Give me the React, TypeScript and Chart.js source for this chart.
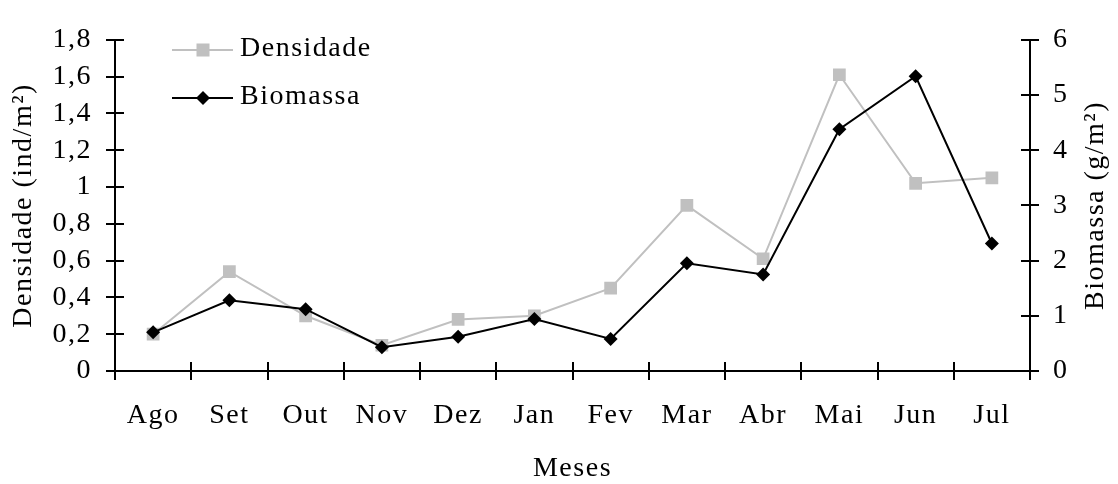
import React, { useEffect, useRef } from 'react';
import { Chart, registerables } from 'chart.js';

Chart.register(...registerables);

// ---- data ----
const months = ['Ago', 'Set', 'Out', 'Nov', 'Dez', 'Jan', 'Fev', 'Mar', 'Abr', 'Mai', 'Jun', 'Jul'];
const densidade = [0.2, 0.54, 0.3, 0.14, 0.28, 0.3, 0.45, 0.9, 0.61, 1.61, 1.02, 1.05];
const biomassa = [0.7, 1.28, 1.12, 0.43, 0.62, 0.94, 0.58, 1.95, 1.75, 4.38, 5.34, 2.31];
const leftAxis = { min: 0, max: 1.8, step: 0.2 };
const rightAxis = { min: 0, max: 6, step: 1 };
const seriesNames = ['Densidade', 'Biomassa'];
const axisTitles = { x: 'Meses', left: 'Densidade (ind/m²)', right: 'Biomassa (g/m²)' };

const FONT = "'Liberation Serif', 'Times New Roman', Times, serif";
const FS = 28;
const LS = '1.5px';
const GRAY = '#c0c0c0';
const BLACK = '#000000';

const fmt = (v: number) => String(Math.round(v * 10) / 10).replace('.', ',');

const spacingPlugin = {
  id: 'letterSpacing',
  beforeUpdate(chart: any) { chart.ctx.letterSpacing = LS; },
  beforeLayout(chart: any) { chart.ctx.letterSpacing = LS; },
  beforeDraw(chart: any) { chart.ctx.letterSpacing = LS; },
};

const decorPlugin = {
  id: 'decor',
  afterDraw(chart: any) {
    const { ctx, chartArea: a, scales } = chart;
    ctx.save();
    ctx.strokeStyle = BLACK;
    ctx.lineWidth = 2;
    ctx.beginPath();
    const xs = scales.x;
    for (let i = 0; i <= months.length; i++) {
      const px = Math.round(xs.getPixelForValue(i - 0.5));
      ctx.moveTo(px, a.bottom - 9);
      ctx.lineTo(px, a.bottom + 9);
    }
    scales.y.ticks.forEach((t: any) => {
      const py = Math.round(scales.y.getPixelForValue(t.value));
      ctx.moveTo(a.left - 9, py);
      ctx.lineTo(a.left + 9, py);
    });
    scales.y1.ticks.forEach((t: any) => {
      const py = Math.round(scales.y1.getPixelForValue(t.value));
      ctx.moveTo(a.right - 9, py);
      ctx.lineTo(a.right + 9, py);
    });
    ctx.stroke();

    // right axis title (reads bottom to top)
    ctx.letterSpacing = LS;
    ctx.font = `${FS}px ${FONT}`;
    ctx.fillStyle = BLACK;
    ctx.save();
    ctx.translate(1096, (a.top + a.bottom) / 2);
    ctx.rotate(-Math.PI / 2);
    ctx.textAlign = 'center';
    ctx.textBaseline = 'middle';
    ctx.fillText(axisTitles.right, 0, 0);
    ctx.restore();

    // legend
    const rows = [50, 98];
    chart.data.datasets.forEach((d: any, i: number) => {
      const y = rows[i];
      ctx.strokeStyle = d.borderColor;
      ctx.lineWidth = d.borderWidth;
      ctx.beginPath();
      ctx.moveTo(172, y);
      ctx.lineTo(233, y);
      ctx.stroke();
      ctx.fillStyle = d.pointBackgroundColor;
      const cx = 203;
      if (d.pointStyle === 'rect') {
        const s = 6.5;
        ctx.fillRect(cx - s, y - s, 2 * s, 2 * s);
      } else {
        const r = 7;
        ctx.beginPath();
        ctx.moveTo(cx, y - r);
        ctx.lineTo(cx + r, y);
        ctx.lineTo(cx, y + r);
        ctx.lineTo(cx - r, y);
        ctx.closePath();
        ctx.fill();
      }
      ctx.fillStyle = BLACK;
      ctx.textAlign = 'left';
      ctx.textBaseline = 'middle';
      ctx.fillText(d.label, 240, y - 1);
    });
    ctx.restore();
  },
};

export default function App() {
  const ref = useRef<HTMLCanvasElement | null>(null);

  useEffect(() => {
    document.body.style.margin = '0';
    const canvas = ref.current;
    if (!canvas) return;
    const font = { family: FONT, size: FS };
    const chart = new Chart(canvas, {
      type: 'line',
      data: {
        labels: months,
        datasets: [
          {
            label: seriesNames[0],
            data: densidade,
            yAxisID: 'y',
            borderColor: GRAY,
            backgroundColor: GRAY,
            borderWidth: 2,
            pointStyle: 'rect',
            pointRadius: 9,
            pointBackgroundColor: GRAY,
            pointBorderColor: GRAY,
            pointBorderWidth: 0,
            tension: 0,
            order: 2,
          },
          {
            label: seriesNames[1],
            data: biomassa,
            yAxisID: 'y1',
            borderColor: BLACK,
            backgroundColor: BLACK,
            borderWidth: 2,
            pointStyle: 'rectRot',
            pointRadius: 7,
            pointBackgroundColor: BLACK,
            pointBorderColor: BLACK,
            pointBorderWidth: 0,
            tension: 0,
            order: 1,
          },
        ],
      },
      options: {
        responsive: false,
        animation: false,
        events: [],
        layout: { padding: { top: 18, left: 0, right: 0, bottom: 0 } },
        plugins: {
          legend: { display: false },
          tooltip: { enabled: false },
          title: { display: false },
        },
        scales: {
          x: {
            type: 'category',
            offset: true,
            grid: { display: false, drawTicks: false },
            border: { display: true, color: BLACK, width: 2 },
            ticks: { color: BLACK, font, padding: 28, maxRotation: 0, autoSkip: false },
            title: { display: true, text: axisTitles.x, color: BLACK, font: { ...font, lineHeight: 1.1 }, padding: { top: 0, bottom: 0 } },
            afterFit: (s: any) => { s.height = 113; },
          },
          y: {
            type: 'linear',
            position: 'left',
            min: leftAxis.min,
            max: leftAxis.max,
            grid: { display: false, drawTicks: false },
            border: { display: true, color: BLACK, width: 2 },
            ticks: { stepSize: leftAxis.step, color: BLACK, font, padding: 23, callback: (v: any) => fmt(Number(v)) },
            title: { display: true, text: axisTitles.left, color: BLACK, font, padding: { top: 7, bottom: 0 } },
            afterFit: (s: any) => { s.width = 115; },
          },
          y1: {
            type: 'linear',
            position: 'right',
            min: rightAxis.min,
            max: rightAxis.max,
            grid: { display: false, drawTicks: false },
            border: { display: true, color: BLACK, width: 2 },
            ticks: { stepSize: rightAxis.step, color: BLACK, font, padding: 23, callback: (v: any) => fmt(Number(v)) },
            afterFit: (s: any) => { s.width = 88; },
          },
        },
      },
      plugins: [spacingPlugin, decorPlugin],
    } as any);
    return () => chart.destroy();
  }, []);

  return (
    <div style={{ width: 1118, height: 484, background: '#fff' }}>
      <canvas ref={ref} width={1118} height={484} style={{ display: 'block' }} />
    </div>
  );
}
